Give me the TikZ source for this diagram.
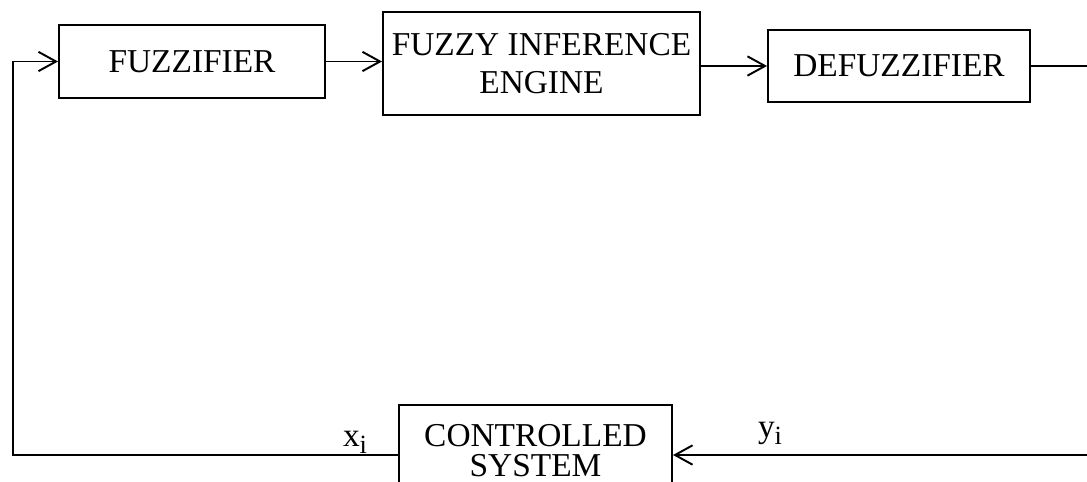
\documentclass[tikz,border=0pt]{standalone}
\usepackage{fontspec}
\setmainfont{Liberation Serif}
\usetikzlibrary{arrows.meta}
\begin{document}
\begin{tikzpicture}[x=0.02cm,y=-0.02cm,
  blk/.style={draw,line width=1.1pt,inner sep=0pt,align=center,font=\fontsize{19}{22}\selectfont},
  arr/.style={line width=1.1pt,-{Straight Barb[length=10pt,width=11pt,line width=1.1pt]}},
  lbl/.style={inner sep=0pt,font=\fontsize{19}{22}\selectfont}]
\clip (0,0) rectangle (1087,482);
\node[blk,minimum width=266*0.02cm,minimum height=73*0.02cm] (fz) at (192,61.5) {FUZZIFIER};
\node[blk,minimum width=317*0.02cm,minimum height=103*0.02cm] (fie) at (541.5,63.5) {FUZZY INFERENCE\\ENGINE};
\node[blk,minimum width=262*0.02cm,minimum height=72*0.02cm] (def) at (899,66) {DEFUZZIFIER};
\node[blk,minimum width=273*0.02cm,minimum height=100*0.02cm] (cs) at (535.5,455) {};
\node[lbl,align=center,font=\fontsize{19}{17}\selectfont] (cst) at (535.5,451) {CONTROLLED\\SYSTEM};
\coordinate (L) at (13,455);
\coordinate (R) at (1100,66);
\draw[arr] (fz.east) -- (fz.east -| fie.west);
\draw[arr] (fie.east |- def.west) -- (def.west);
\draw[arr] (def.east) -- (R) -- (R |- cs.east) -- (cs.east);
\draw[arr] (cs.west) -- (L) -- (L |- fz.west) -- (fz.west);
\node[lbl,anchor=base] (xi) at (355,446) {x\raisebox{-4pt}{\fontsize{15}{18}\selectfont i}};
\node[lbl,anchor=base] (yi) at (770,437) {y\raisebox{-4pt}{\fontsize{15}{18}\selectfont i}};
\end{tikzpicture}
\end{document}
